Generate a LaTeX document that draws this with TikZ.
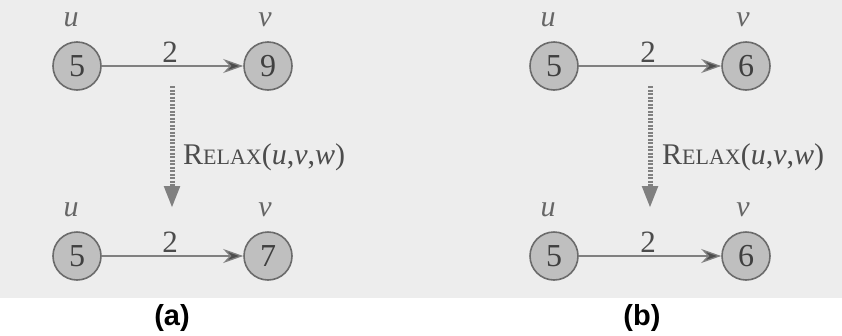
\documentclass[tikz,border=0pt]{standalone}
\usepackage{fontspec}
\setmainfont{Liberation Serif}
\newfontfamily\capfont{Liberation Sans}
\usetikzlibrary{arrows.meta}
\tikzset{
  vtx/.style={circle, draw=black!58, fill=black!25, line width=1.6pt, minimum size=48pt, inner sep=0pt, text=black!75, font=\fontsize{32}{34}\selectfont},
  lbl/.style={text=black!60, font=\fontsize{30}{32}\selectfont\itshape, inner sep=0pt},
  wt/.style={text=black!70, font=\fontsize{31}{33}\selectfont, inner sep=0pt},
  edge/.style={draw=black!50, line width=1.3pt, -{Stealth[length=20pt,width=14pt,fill=black!70]}},
  relaxarrow/.style={draw=black!50, line width=5pt, dash pattern=on 2pt off 1.5pt, -{Triangle[length=22pt,width=15pt]}},
  relaxtext/.style={text=black!70, font=\fontsize{30}{32}\selectfont, inner sep=0pt, anchor=west},
  captext/.style={font=\capfont\bfseries\fontsize{29}{31}\selectfont, inner sep=0pt}
}
\newcommand{\relaxlabel}{R{\fontsize{22}{24}\selectfont ELAX}(\textit{u},\textit{v},\textit{w})}
\begin{document}
\begin{tikzpicture}[x=1pt,y=-1pt]
\useasboundingbox (0,0) rectangle (842,335);
\fill[black!7] (0,0) rectangle (842,298);
% panel (a)
\node[vtx] (a1) at (77,66) {5};
\node[vtx] (a2) at (268,66) {9};
\node[vtx] (a3) at (77,256) {5};
\node[vtx] (a4) at (268,256) {7};
\node[lbl] (la1) at (71,20) {u};
\node[lbl] (la2) at (265,20) {v};
\node[lbl] (la3) at (71,210) {u};
\node[lbl] (la4) at (265,210) {v};
\draw[edge] (a1) -- (a2);
\draw[edge] (a3) -- (a4);
\node[wt] (wa1) at (170,52) {2};
\node[wt] (wa2) at (170,242) {2};
\coordinate (ra1) at (172,86);
\coordinate (ra2) at (172,208);
\draw[relaxarrow] (ra1) -- (ra2);
\node[relaxtext] (rta) at (183,157) {\relaxlabel};
\node[captext] (capa) at (172,318) {(a)};
% panel (b)
\node[vtx] (b1) at (554,66) {5};
\node[vtx] (b2) at (746,66) {6};
\node[vtx] (b3) at (554,256) {5};
\node[vtx] (b4) at (746,256) {6};
\node[lbl] (lb1) at (548,20) {u};
\node[lbl] (lb2) at (743,20) {v};
\node[lbl] (lb3) at (548,210) {u};
\node[lbl] (lb4) at (743,210) {v};
\draw[edge] (b1) -- (b2);
\draw[edge] (b3) -- (b4);
\node[wt] (wb1) at (648,52) {2};
\node[wt] (wb2) at (648,242) {2};
\coordinate (rb1) at (650,86);
\coordinate (rb2) at (650,208);
\draw[relaxarrow] (rb1) -- (rb2);
\node[relaxtext] (rtb) at (662,157) {\relaxlabel};
\node[captext] (capb) at (642,318) {(b)};
\end{tikzpicture}
\end{document}
